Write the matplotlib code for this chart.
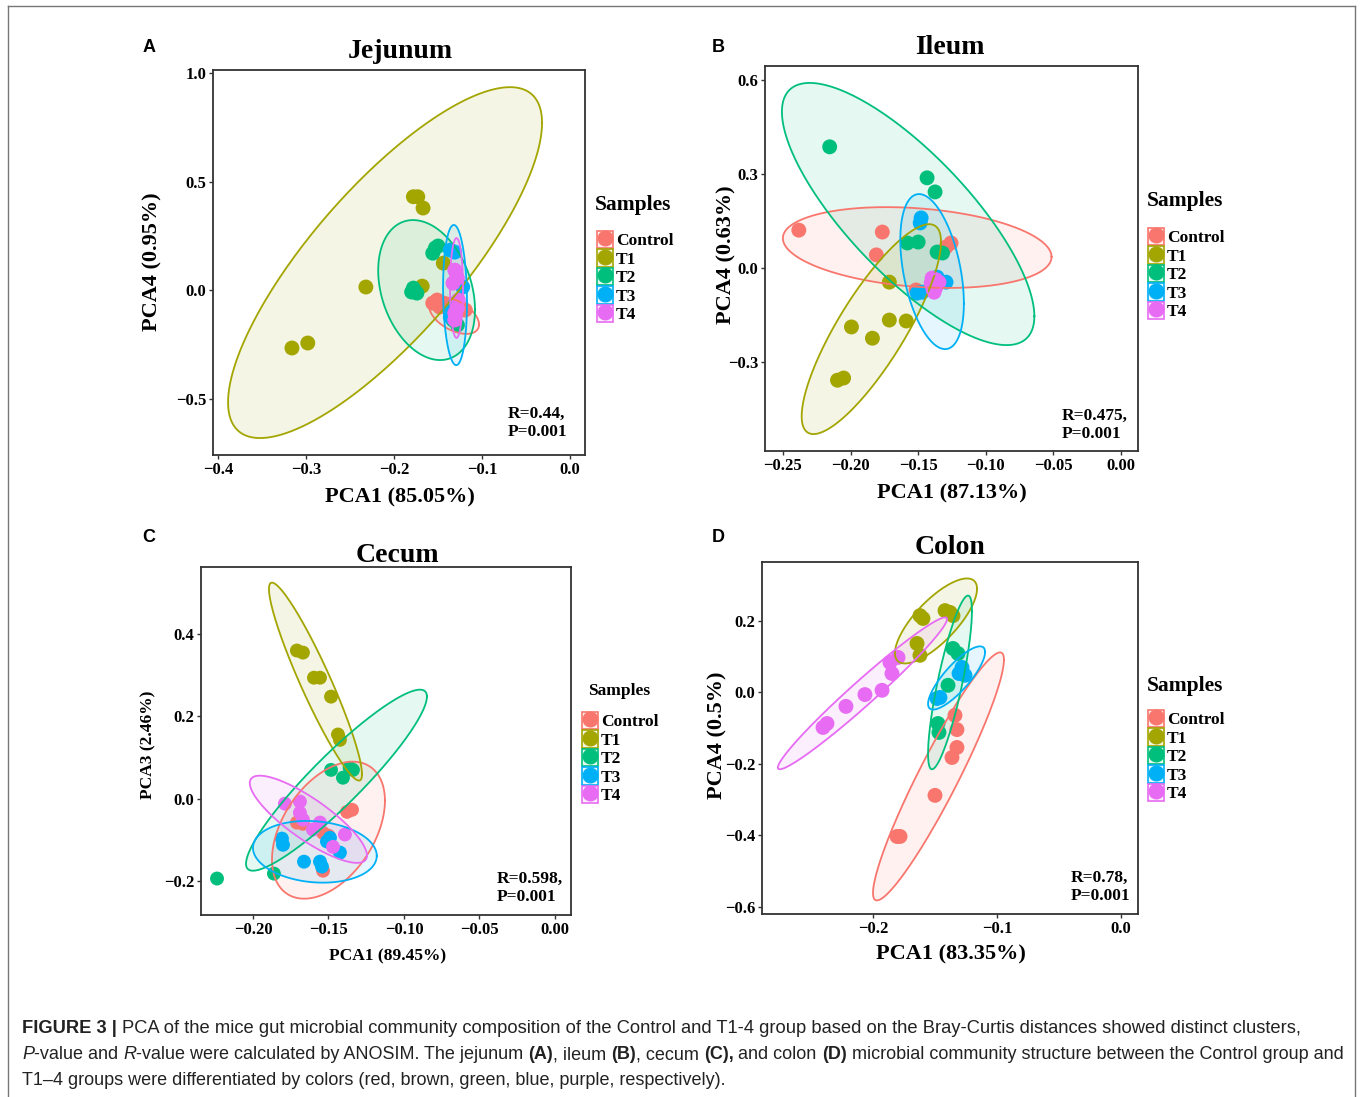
import numpy as np
import matplotlib
matplotlib.use("Agg")
import matplotlib.pyplot as plt
from matplotlib.patches import Patch
from matplotlib.lines import Line2D
from matplotlib.colors import to_rgba
from matplotlib.ticker import FuncFormatter

groups = ['Control', 'T1', 'T2', 'T3', 'T4']
colors = ['#F8766D', '#A3A500', '#00BF7D', '#00B0F6', '#E76BF3']

# ---- Jejunum (PCA1 vs PCA4) ----
jej_x = {
    'Control': [-0.151, -0.144, -0.148, -0.125, -0.119, -0.156],
    'T1': [-0.178, -0.173, -0.167, -0.232, -0.316, -0.298, -0.144, -0.168],
    'T2': [-0.153, -0.150, -0.156, -0.178, -0.174, -0.180, -0.128, -0.133],
    'T3': [-0.136, -0.131, -0.122, -0.134, -0.136, -0.130],
    'T4': [-0.131, -0.128, -0.133, -0.127, -0.131, -0.128, -0.131],
}
jej_y = {
    'Control': [-0.046, -0.060, -0.078, -0.078, -0.092, -0.060],
    'T1': [0.430, 0.430, 0.378, 0.014, -0.267, -0.244, 0.124, 0.018],
    'T2': [0.194, 0.203, 0.170, 0.009, -0.014, -0.009, -0.161, -0.138],
    'T3': [0.184, 0.175, 0.014, -0.092, -0.124, -0.060],
    'T4': [0.092, 0.055, 0.032, -0.046, -0.106, -0.083, -0.138],
}
# ellipse: centre, half width, half height, tilt (Control, T1, T2, T3, T4)
jej_ell_cx = [-0.1317, -0.2102, -0.163, -0.1307, -0.129]
jej_ell_cy = [-0.117, 0.1265, 0.0, -0.023, 0.0095]
jej_ell_sx = [0.0283, 0.1784, 0.055, 0.0136, 0.0074]
jej_ell_sy = [0.085, 0.8085, 0.3226, 0.323, 0.23]
jej_ell_rho = [-0.49, 0.796, -0.28, -0.10, 0.0]

# ---- Ileum (PCA1 vs PCA4) ----
ile_x = {
    'Control': [-0.2382, -0.1765, -0.1809, -0.1257, -0.1294, -0.1515],
    'T1': [-0.1713, -0.1993, -0.1838, -0.1713, -0.1588, -0.2096, -0.2051],
    'T2': [-0.2154, -0.1434, -0.1375, -0.158, -0.150, -0.136, -0.132],
    'T3': [-0.1478, -0.1485, -0.1294, -0.1507, -0.147, -0.136],
    'T4': [-0.1397, -0.1368, -0.1404, -0.1346, -0.1382],
}
ile_y = {
    'Control': [0.121, 0.115, 0.042, 0.080, 0.067, -0.070],
    'T1': [-0.045, -0.188, -0.224, -0.166, -0.169, -0.358, -0.351],
    'T2': [0.387, 0.288, 0.243, 0.080, 0.083, 0.051, 0.048],
    'T3': [0.160, 0.144, -0.045, -0.080, -0.077, -0.029],
    'T4': [-0.032, -0.061, -0.048, -0.045, -0.077],
}
ile_ell_cx = [-0.1507, -0.1846, -0.1574, -0.1397, -0.1380]
ile_ell_cy = [0.0655, -0.195, 0.1725, -0.0113, -0.052]
ile_ell_sx = [0.0993, 0.0515, 0.0933, 0.0235, 0.006]
ile_ell_sy = [0.129, 0.335, 0.4185, 0.2475, 0.035]
ile_ell_rho = [-0.23, 0.83, -0.78, -0.41, 0.3]

# ---- Cecum (PCA1 vs PCA3) ----
cec_x = {
    'Control': [-0.1377, -0.1344, -0.1709, -0.1669, -0.1536, -0.1536, -0.150],
    'T1': [-0.1709, -0.1669, -0.1596, -0.1556, -0.1483, -0.1437, -0.1424],
    'T2': [-0.2238, -0.1861, -0.1483, -0.1404, -0.1338, -0.136],
    'T3': [-0.1808, -0.1801, -0.1662, -0.1556, -0.1543, -0.149, -0.151, -0.1424],
    'T4': [-0.1788, -0.1689, -0.1689, -0.1669, -0.1603, -0.1556, -0.147, -0.1391],
}
cec_y = {
    'Control': [-0.032, -0.027, -0.058, -0.061, -0.083, -0.175, -0.090],
    'T1': [0.360, 0.355, 0.294, 0.294, 0.248, 0.156, 0.143],
    'T2': [-0.194, -0.182, 0.070, 0.051, 0.070, 0.075],
    'T3': [-0.097, -0.112, -0.153, -0.153, -0.165, -0.095, -0.104, -0.131],
    'T4': [-0.012, -0.007, -0.034, -0.051, -0.075, -0.058, -0.117, -0.087],
}
cec_ell_cx = [-0.150, -0.1586, -0.1447, -0.159, -0.1633]
cec_ell_cy = [-0.0765, 0.2845, 0.045, -0.129, -0.05]
cec_ell_sx = [0.0374, 0.0308, 0.0599, 0.041, 0.0388]
cec_ell_sy = [0.1665, 0.2405, 0.22, 0.075, 0.106]
cec_ell_rho = [0.43, -0.935, 0.923, -0.13, -0.83]

# ---- Colon (PCA1 vs PCA4) ----
col_x = {
    'Control': [-0.1339, -0.1323, -0.1323, -0.1363, -0.150, -0.1782, -0.1806],
    'T1': [-0.1621, -0.1597, -0.1419, -0.1379, -0.1355, -0.1645, -0.1621],
    'T2': [-0.1355, -0.1315, -0.1395, -0.1476, -0.1468],
    'T3': [-0.1282, -0.1306, -0.1258, -0.146, -0.1484],
    'T4': [-0.2371, -0.2403, -0.2218, -0.2065, -0.1927, -0.1847, -0.1863, -0.1798],
}
col_y = {
    'Control': [-0.064, -0.104, -0.154, -0.182, -0.288, -0.403, -0.403],
    'T1': [0.215, 0.207, 0.229, 0.224, 0.215, 0.137, 0.104],
    'T2': [0.123, 0.109, 0.020, -0.087, -0.112],
    'T3': [0.070, 0.053, 0.048, -0.014, -0.017],
    'T4': [-0.087, -0.098, -0.039, -0.006, 0.006, 0.053, 0.084, 0.098],
}
col_ell_cx = [-0.1472, -0.1492, -0.1379, -0.1326, -0.2085]
col_ell_cy = [-0.235, 0.200, 0.028, 0.0405, -0.0025]
col_ell_sx = [0.0528, 0.0331, 0.0177, 0.023, 0.0682]
col_ell_sy = [0.347, 0.119, 0.243, 0.0885, 0.2125]
col_ell_rho = [0.94, 0.755, 0.82, 0.82, 0.977]

W, H = 1360, 1097
fig = plt.figure(figsize=(W / 100, H / 100), dpi=100)
SERIF = 'Liberation Serif'


def fpos(x, y):
    return x / W, 1 - y / H


def minus_fmt(nd):
    return FuncFormatter(lambda v, p: f"{v:.{nd}f}".replace('-', '\u2212'))


def draw_ellipse(ax, cx, cy, sx, sy, rho, color):
    t = np.linspace(0, 2 * np.pi, 300)
    ex = cx + sx * np.cos(t)
    ey = cy + sy * (rho * np.cos(t) + np.sqrt(1 - rho ** 2) * np.sin(t))
    ax.fill(ex, ey, color=color, alpha=0.1, lw=0, zorder=1)
    ax.plot(ex, ey, color=color, lw=1.3, zorder=3)


def panel(box, xs, ys, ell, xlim, ylim, xticks, yticks, xnd, ynd, ms):
    l, t, r, b = box
    ax = fig.add_axes([l / W, 1 - b / H, (r - l) / W, (b - t) / H])
    for g, c in zip(groups, colors):
        ax.scatter(xs[g], ys[g], s=ms, color=c, edgecolors='none', zorder=2)
    for i, c in enumerate(colors):
        draw_ellipse(ax, ell[0][i], ell[1][i], ell[2][i], ell[3][i], ell[4][i], c)
    ax.set_xlim(*xlim)
    ax.set_ylim(*ylim)
    ax.set_xticks(xticks)
    ax.set_yticks(yticks)
    ax.xaxis.set_major_formatter(minus_fmt(xnd))
    ax.yaxis.set_major_formatter(minus_fmt(ynd))
    for sp in ax.spines.values():
        sp.set_color('#333333')
        sp.set_linewidth(1.3)
    ax.tick_params(direction='out', length=3, width=1, color='#333333', pad=2)
    for lab in ax.get_xticklabels() + ax.get_yticklabels():
        lab.set_fontfamily(SERIF)
        lab.set_fontweight('bold')
        lab.set_fontsize(12)
    return ax


def legend(ax, title_xy, key_xy, title_fs):
    fig.text(*fpos(*title_xy), 'Samples', family=SERIF, weight='bold',
             fontsize=title_fs, ha='left', va='center')
    handles = [(Patch(facecolor=to_rgba(c, 0.1), edgecolor=c, lw=1.2),
                Line2D([], [], marker='o', ls='', color=c, markersize=10.5))
               for c in colors]
    ax.legend(handles, groups, loc='upper left', bbox_to_anchor=fpos(*key_xy),
              bbox_transform=fig.transFigure, frameon=False, borderpad=0,
              borderaxespad=0, handlelength=0.95, handleheight=1.15,
              labelspacing=0, handletextpad=0.15,
              prop={'family': SERIF, 'weight': 'bold', 'size': 12.5})


def labels(letter, letter_xy, title, title_xy, xlab, xlab_xy, ylab, ylab_xy,
           lab_fs, rp, rp_xy):
    fig.text(*fpos(*letter_xy), letter, family='Liberation Sans', weight='bold',
             fontsize=13, ha='center', va='center')
    fig.text(*fpos(*title_xy), title, family=SERIF, weight='bold',
             fontsize=20, ha='center', va='center')
    fig.text(*fpos(*xlab_xy), xlab, family=SERIF, weight='bold',
             fontsize=lab_fs, ha='center', va='center')
    fig.text(*fpos(*ylab_xy), ylab, family=SERIF, weight='bold',
             fontsize=lab_fs, ha='center', va='center', rotation=90)
    fig.text(*fpos(*rp_xy), rp, family=SERIF, weight='bold', fontsize=12.5,
             ha='left', va='center', linespacing=1.15)


axA = panel((213, 70, 585, 455), jej_x, jej_y,
            (jej_ell_cx, jej_ell_cy, jej_ell_sx, jej_ell_sy, jej_ell_rho),
            (-0.4057, 0.017), (-0.76, 1.014),
            [-0.4, -0.3, -0.2, -0.1, 0.0], [-0.5, 0.0, 0.5, 1.0], 1, 1, 115)
legend(axA, (595, 205), (597, 231), 15.5)
labels('A', (149, 47), 'Jejunum', (400, 52), 'PCA1 (85.05%)', (400, 497),
       'PCA4 (0.95%)', (152, 262), 16, 'R=0.44,\nP=0.001', (508, 423))

axB = panel((765, 66, 1138, 451), ile_x, ile_y,
            (ile_ell_cx, ile_ell_cy, ile_ell_sx, ile_ell_sy, ile_ell_rho),
            (-0.2632, 0.0125), (-0.584, 0.645),
            [-0.25, -0.20, -0.15, -0.10, -0.05, 0.0], [-0.3, 0.0, 0.3, 0.6],
            2, 1, 115)
legend(axB, (1147, 201), (1148, 228), 15.5)
labels('B', (718, 47), 'Ileum', (950, 48), 'PCA1 (87.13%)', (952, 493),
       'PCA4 (0.63%)', (726, 255), 16, 'R=0.475,\nP=0.001', (1062, 425))

axC = panel((201, 567, 571, 915), cec_x, cec_y,
            (cec_ell_cx, cec_ell_cy, cec_ell_sx, cec_ell_sy, cec_ell_rho),
            (-0.2344, 0.0106), (-0.2826, 0.563),
            [-0.20, -0.15, -0.10, -0.05, 0.0], [-0.2, 0.0, 0.2, 0.4],
            2, 1, 100)
legend(axC, (588, 691), (582, 712), 12.5)
labels('C', (149, 538), 'Cecum', (397, 556), 'PCA1 (89.45%)', (388, 956),
       'PCA3 (2.46%)', (148, 745), 12.5, 'R=0.598,\nP=0.001', (497, 888))

axD = panel((762, 562, 1138, 914), col_x, col_y,
            (col_ell_cx, col_ell_cy, col_ell_sx, col_ell_sy, col_ell_rho),
            (-0.2895, 0.0137), (-0.62, 0.365),
            [-0.2, -0.1, 0.0], [-0.6, -0.4, -0.2, 0.0, 0.2], 1, 1, 115)
legend(axD, (1147, 686), (1148, 710), 15.5)
labels('D', (718, 538), 'Colon', (950, 548), 'PCA1 (83.35%)', (951, 954),
       'PCA4 (0.5%)', (717, 735), 16, 'R=0.78,\nP=0.001', (1071, 887))

# outer frame (open at the bottom)
for xs_, ys_ in [((8, 8), (6, H)), ((8, 1355), (6, 6)), ((1355, 1355), (6, H))]:
    fig.add_artist(Line2D([x / W for x in xs_], [1 - y / H for y in ys_],
                          color='#777777', lw=1.0, transform=fig.transFigure))

# caption
renderer = fig.canvas.get_renderer()
NB = {'weight': 'normal'}
BD = {'weight': 'bold'}
IT = {'style': 'italic'}
cap_lines = [
    [("FIGURE 3 |", BD, 1),
     ("PCA of the mice gut microbial community composition of the Control and T1-4 group "
      "based on the Bray-Curtis distances showed distinct clusters,", NB, 0)],
    [("P", IT, 0), ("-value and", NB, 1), ("R", IT, 0),
     ("-value were calculated by ANOSIM. The jejunum", NB, 1), ("(A)", BD, 0),
     (", ileum", NB, 1), ("(B)", BD, 0), (", cecum", NB, 1), ("(C),", BD, 1),
     ("and colon", NB, 1), ("(D)", BD, 1),
     ("microbial community structure between the Control group and", NB, 0)],
    [("T1\u20134 groups were differentiated by colors (red, brown, green, blue, purple, "
      "respectively).", NB, 0)],
]
cap_base = [1033, 1059, 1085]
cap_right = [1302, 1340, 722]


def place_line(runs, base_y, fs):
    probe1 = fig.text(0, 0, 'x x', fontsize=fs, family='Liberation Sans')
    probe2 = fig.text(0, 0, 'xx', fontsize=fs, family='Liberation Sans')
    space_w = (probe1.get_window_extent(renderer).width
               - probe2.get_window_extent(renderer).width)
    probe1.remove()
    probe2.remove()
    x = 22
    made = []
    for s, style, nsp in runs:
        t = fig.text(x / W, 1 - base_y / H, s, fontsize=fs, family='Liberation Sans',
                     va='baseline', ha='left', color='#222222', **style)
        made.append(t)
        x += t.get_window_extent(renderer).width + nsp * space_w
    return made, x


for runs, base_y, right in zip(cap_lines, cap_base, cap_right):
    made, end = place_line(runs, base_y, 13.0)
    for t in made:
        t.remove()
    fs = 13.0 * (right - 22) / (end - 22)
    place_line(runs, base_y, fs)

fig.savefig('out.png', dpi=100, facecolor='white')
